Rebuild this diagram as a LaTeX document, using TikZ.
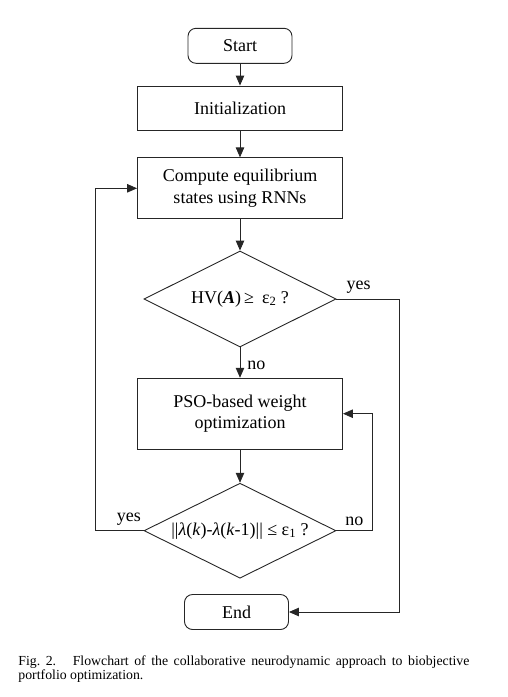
\documentclass[tikz,border=0pt]{standalone}
\usepackage{fontspec}
\setmainfont{Liberation Serif}
\usetikzlibrary{positioning,shapes.geometric,arrows.meta}

\begin{document}
\begin{tikzpicture}[x=1pt, y=1pt, ->, >={Triangle[length=10pt,width=8.5pt]}, line width=0.9pt, draw=black!85,
	font=\fontsize{18}{21.7}\selectfont,
	term/.style = {rectangle, rounded corners=8pt, draw, minimum width=104pt, minimum height=35pt},
	proc/.style = {rectangle, draw, minimum width=205pt, align=center},
	test/.style = {diamond, aspect=2, draw, minimum width=192pt, minimum height=96pt, inner sep=0pt},
	lbl/.style = {inner sep=5pt},
	captext/.style = {anchor=base west, inner sep=0pt, font=\fontsize{13.8}{14}\selectfont}]
			\useasboundingbox (0,0) rectangle (508,-697);
			\node[term] (start) at (240,-45.8) {Start};
			\node[proc, minimum height=44pt] (init) [below of=start, node distance=62.2pt] {Initialization};
			\node[proc, minimum height=61pt] (rnn) [below of=init, node distance=80.3pt] {Compute equilibrium\\states using RNNs};
			\node[test] (hv) [below of=rnn, node distance=110.7pt] {HV(\textbf{\textit{A}})\,≥\;\,ε\textsubscript{2} ?};
			\node[proc, minimum height=71pt] (pso) [below of=hv, node distance=114.7pt] {PSO-based weight\\optimization};
			\node[test, minimum height=95pt] (conv) [below of=pso, node distance=117pt] {||\textit{λ}(\textit{k})-\textit{λ}(\textit{k}-1)|| ≤ ε\textsubscript{1} ?};
			\node[term] (end) [below of=conv, node distance=81.3pt, xshift=-3.5pt] {End};
			\node[captext] (cap1) at (18,-665) {\makebox[451pt][s]{Fig.~2.\hspace{1.2em}Flowchart of the collaborative neurodynamic approach to biobjective}};
			\node[captext] (cap2) at (18,-679.3) {portfolio optimization.};
			\path
				(start) edge (init)
				(init) edge (rnn)
				(rnn) edge (hv)
				(hv) edge node[lbl, right, pos=0.6, xshift=2pt] {no} (pso)
				(pso) edge (conv);
			\draw (hv.east) -- node[lbl, above, pos=0.35] {yes} ++(63.3,0) |- (end.east);
			\draw (conv.west) -- node[lbl, above, pos=0.31] {yes} ++(-47.7,0) |- (rnn.west);
			\draw (conv.east) -- node[lbl, above] {no} ++(36,0) |- (pso.east);
		\end{tikzpicture}
\end{document}
